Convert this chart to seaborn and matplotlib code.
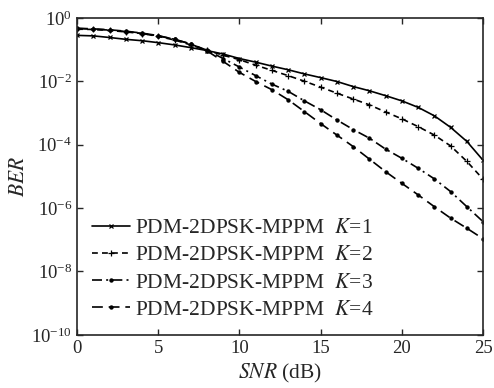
import numpy as np
import pandas as pd
import matplotlib
matplotlib.use("Agg")
import matplotlib.pyplot as plt
import seaborn as sns

snr = list(range(0, 26))

ber_k1 = [2.8e-1, 2.7e-1, 2.4e-1, 2.1e-1, 1.9e-1, 1.65e-1, 1.4e-1, 1.15e-1, 9.3e-2,
          7.2e-2, 5.2e-2, 4.0e-2, 3.0e-2, 2.3e-2, 1.7e-2, 1.3e-2, 9.8e-3, 6.8e-3,
          5.0e-3, 3.5e-3, 2.4e-3, 1.5e-3, 8.1e-4, 3.5e-4, 1.26e-4, 3.2e-5]
ber_k2 = [4.4e-1, 4.3e-1, 4.0e-1, 3.6e-1, 3.2e-1, 2.6e-1, 2.0e-1, 1.4e-1, 9.5e-2,
          6.6e-2, 4.8e-2, 3.2e-2, 2.2e-2, 1.5e-2, 1.0e-2, 6.5e-3, 4.2e-3, 2.75e-3,
          1.8e-3, 1.07e-3, 6.5e-4, 3.7e-4, 2.0e-4, 9.1e-5, 2.95e-5, 8.1e-6]
ber_k3 = [4.6e-1, 4.4e-1, 4.1e-1, 3.7e-1, 3.2e-1, 2.7e-1, 2.1e-1, 1.5e-1, 9.5e-2,
          5.2e-2, 2.8e-2, 1.5e-2, 8.1e-3, 4.8e-3, 2.4e-3, 1.26e-3, 6.0e-4, 3.0e-4,
          1.6e-4, 7.2e-5, 3.7e-5, 1.8e-5, 8.3e-6, 3.3e-6, 1.1e-6, 3.7e-7]
ber_k4 = [4.7e-1, 4.5e-1, 4.2e-1, 3.8e-1, 3.3e-1, 2.75e-1, 2.1e-1, 1.5e-1, 9.1e-2,
          4.2e-2, 1.9e-2, 9.8e-3, 5.4e-3, 2.6e-3, 1.1e-3, 4.6e-4, 2.0e-4, 8.7e-5,
          3.5e-5, 1.4e-5, 6.0e-6, 2.6e-6, 1.1e-6, 4.8e-7, 2.3e-7, 1.07e-7]

labels = [r"PDM-2DPSK-MPPM  $K$=1", r"PDM-2DPSK-MPPM  $K$=2",
          r"PDM-2DPSK-MPPM  $K$=3", r"PDM-2DPSK-MPPM  $K$=4"]

sns.set_style("ticks")
plt.rcParams["font.family"] = ["Liberation Serif", "DejaVu Serif"]
plt.rcParams["mathtext.fontset"] = "stix"

fig = plt.figure(figsize=(4.94, 3.88), dpi=100)
ax = fig.add_axes([0.156, 0.137, 0.822, 0.817])

# line look per curve: (dash pattern, marker, marker size)
looks = [
    (None, "x", 3.5),
    ((3.5, 2.5), "+", 4.5),
    ((6, 2.5, 1.2, 2.5), ".", 4.5),
    ((6.5, 3.5), ".", 4.5),
]
for ber, lab, (dash, mk, ms) in zip([ber_k1, ber_k2, ber_k3, ber_k4], labels, looks):
    df = pd.DataFrame({"SNR": snr, "BER": ber})
    sns.lineplot(data=df, x="SNR", y="BER", ax=ax, color="black", linewidth=1.2,
                 label=lab)
    ln = ax.lines[-1]
    if dash is None:
        ln.set_linestyle("-")
    else:
        ln.set_dashes(dash)
    ln.set_marker(mk)
    ln.set_markersize(ms)
    ln.set_markeredgewidth(0.9)
    ln.set_markerfacecolor("black")
    ln.set_markeredgecolor("black")

ax.set_yscale("log")
ax.set_xlim(0, 25)
ax.set_ylim(1e-10, 1e0)
ax.set_xticks([0, 5, 10, 15, 20, 25])
ax.set_yticks([1e0, 1e-2, 1e-4, 1e-6, 1e-8, 1e-10])
ax.yaxis.set_minor_locator(matplotlib.ticker.NullLocator())
ax.tick_params(direction="in", top=True, right=True, labelsize=13.5, length=4, width=1)
for s in ax.spines.values():
    s.set_linewidth(1.2)

ax.set_xlabel(r"$SNR$ (dB)", fontsize=15.5, labelpad=4)
ax.set_ylabel(r"$BER$", fontsize=15.5, labelpad=2)

ax.legend(loc="lower left", frameon=False, fontsize=15.5, handlelength=1.75,
          handletextpad=0.25, labelspacing=0.33, borderaxespad=0.3,
          bbox_to_anchor=(0.0, 0.0))

fig.savefig("out.png", dpi=100)
